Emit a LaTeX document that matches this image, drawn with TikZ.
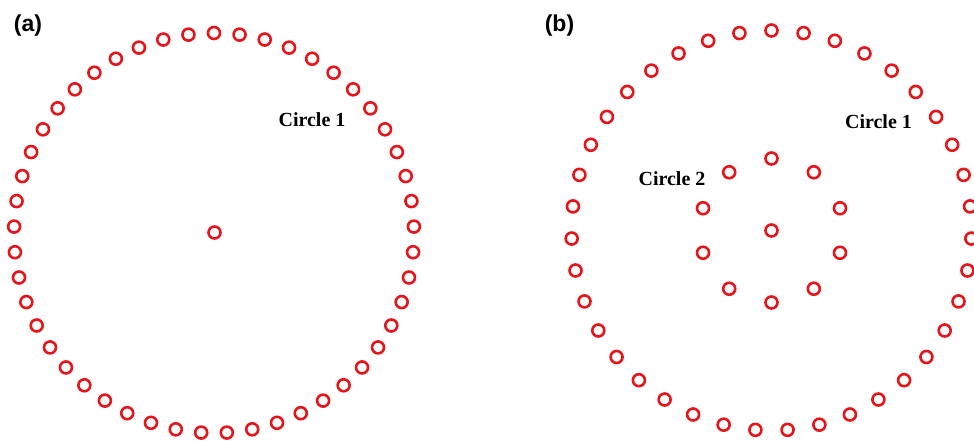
\documentclass[tikz,border=0pt]{standalone}
\usepackage{fontspec}
\setmainfont{Liberation Serif}
\newfontfamily\labelsans{Liberation Sans}
\definecolor{ringred}{RGB}{228,22,28}
\begin{document}
\begin{tikzpicture}[x=1pt,y=-1pt,
  dot/.style={circle,draw=ringred,line width=2.6pt,minimum size=12pt,inner sep=0pt},
  ringlabel/.style={font=\fontsize{20}{24}\selectfont\bfseries,inner sep=0pt},
  panellabel/.style={font=\labelsans\fontsize{23}{27}\selectfont\bfseries,inner sep=0pt}]
\useasboundingbox (0,0) rectangle (974,441);
\clip (0,0) rectangle (974,441);
% panel (a)
\foreach \k in {0,...,48}{
  \pgfmathsetmacro{\ang}{90+(360/49)*\k}
  \node[dot] (a\k) at ({214+200*cos(\ang)},{233-200*sin(\ang)}) {};
}
\node[dot] (ac) at (214.5,232.5) {};
\node[ringlabel] (alab) at (312,120) {Circle 1};
\node[panellabel] (pa) at (28,25.5) {(a)};
% panel (b)
\foreach \k in {0,...,38}{
  \pgfmathsetmacro{\ang}{90+(360/39)*\k}
  \node[dot] (b\k) at ({771.5+200*cos(\ang)},{230.5-200*sin(\ang)}) {};
}
\foreach \k in {0,...,9}{
  \pgfmathsetmacro{\ang}{90+36*\k}
  \node[dot] (c\k) at ({771.5+72*cos(\ang)},{230.5-72*sin(\ang)}) {};
}
\node[dot] (bc) at (771.5,230.5) {};
\node[ringlabel] (blab1) at (878.5,122) {Circle 1};
\node[ringlabel] (blab2) at (672,179) {Circle 2};
\node[panellabel] (pb) at (559.5,25.5) {(b)};
\end{tikzpicture}
\end{document}
